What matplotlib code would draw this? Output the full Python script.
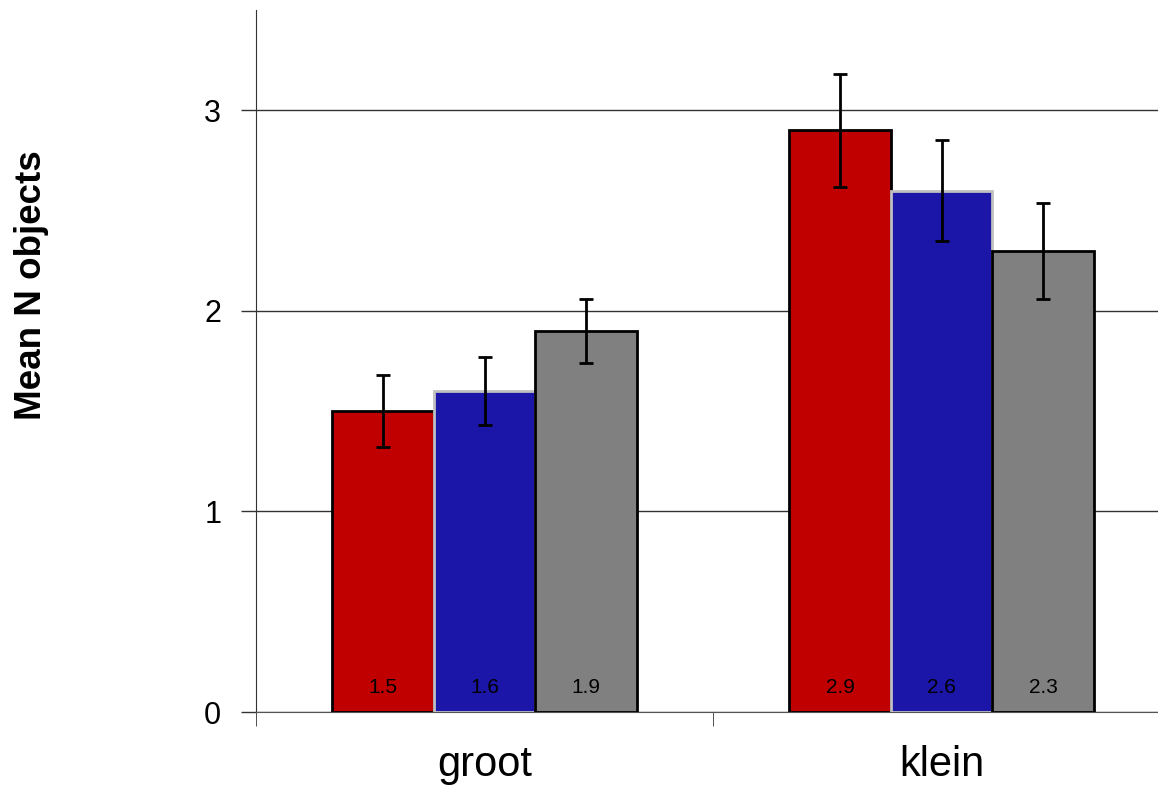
import numpy as np
import matplotlib
matplotlib.use("Agg")
import matplotlib.pyplot as plt

plt.rcParams['font.family'] = ['Liberation Sans', 'DejaVu Sans']

# data
categories = ['groot', 'klein']
series_names = ['rood', 'blauw', 'grijs']
means = [[1.5, 2.9],
         [1.6, 2.6],
         [1.9, 2.3]]
errors = [[0.18, 0.28],
          [0.17, 0.25],
          [0.16, 0.24]]
value_labels = [['1.5', '2.9'],
                ['1.6', '2.6'],
                ['1.9', '2.3']]
yticks = [0, 1, 2, 3]

colors = ['#C00000', '#1C16A8', '#808080']
edges = ['black', '#C0C0C0', 'black']

fig = plt.figure(figsize=(11.58, 7.87), dpi=100)
ax = fig.add_axes([256/1158, 75/787, 914/1158, 702/787])

x = np.arange(len(categories)) + 0.5
w = 2/9
for i in range(3):
    pos = x + (i - 1) * w
    ax.bar(pos, means[i], width=w, color=colors[i], edgecolor=edges[i],
           linewidth=2, zorder=3)
    ax.errorbar(pos, means[i], yerr=errors[i], fmt='none', ecolor='black',
                elinewidth=2, capsize=5, capthick=2, zorder=4)
    for p, lab in zip(pos, value_labels[i]):
        ax.text(p, 0.12, lab, ha='center', va='center', fontsize=15, zorder=5)

ax.set_xlim(0, 2)
ax.set_ylim(0, 3.5)
ax.set_yticks(yticks)
ax.set_yticklabels([str(t) for t in yticks], fontsize=22)
ax.set_xticks(x)
ax.set_xticklabels(categories, fontsize=30)
ax.set_xticks([0, 1, 2], minor=True)
ax.tick_params(axis='x', which='major', length=0, pad=24)
ax.tick_params(axis='x', which='minor', length=10, direction='out', color='#333333')
ax.tick_params(axis='y', length=11, direction='out', width=1, color='#333333', pad=14)

ax.yaxis.grid(True, color='#333333', linewidth=1, zorder=0)
ax.set_axisbelow(True)
for s in ['top', 'right']:
    ax.spines[s].set_visible(False)
ax.spines['left'].set_color('#333333')
ax.spines['bottom'].set_color('#555555')

fig.text(32/1158, 1 - 285/787, 'Mean N objects', rotation=90, fontsize=26.5,
         fontweight='bold', ha='center', va='center')

fig.savefig('out.png', dpi=100)
